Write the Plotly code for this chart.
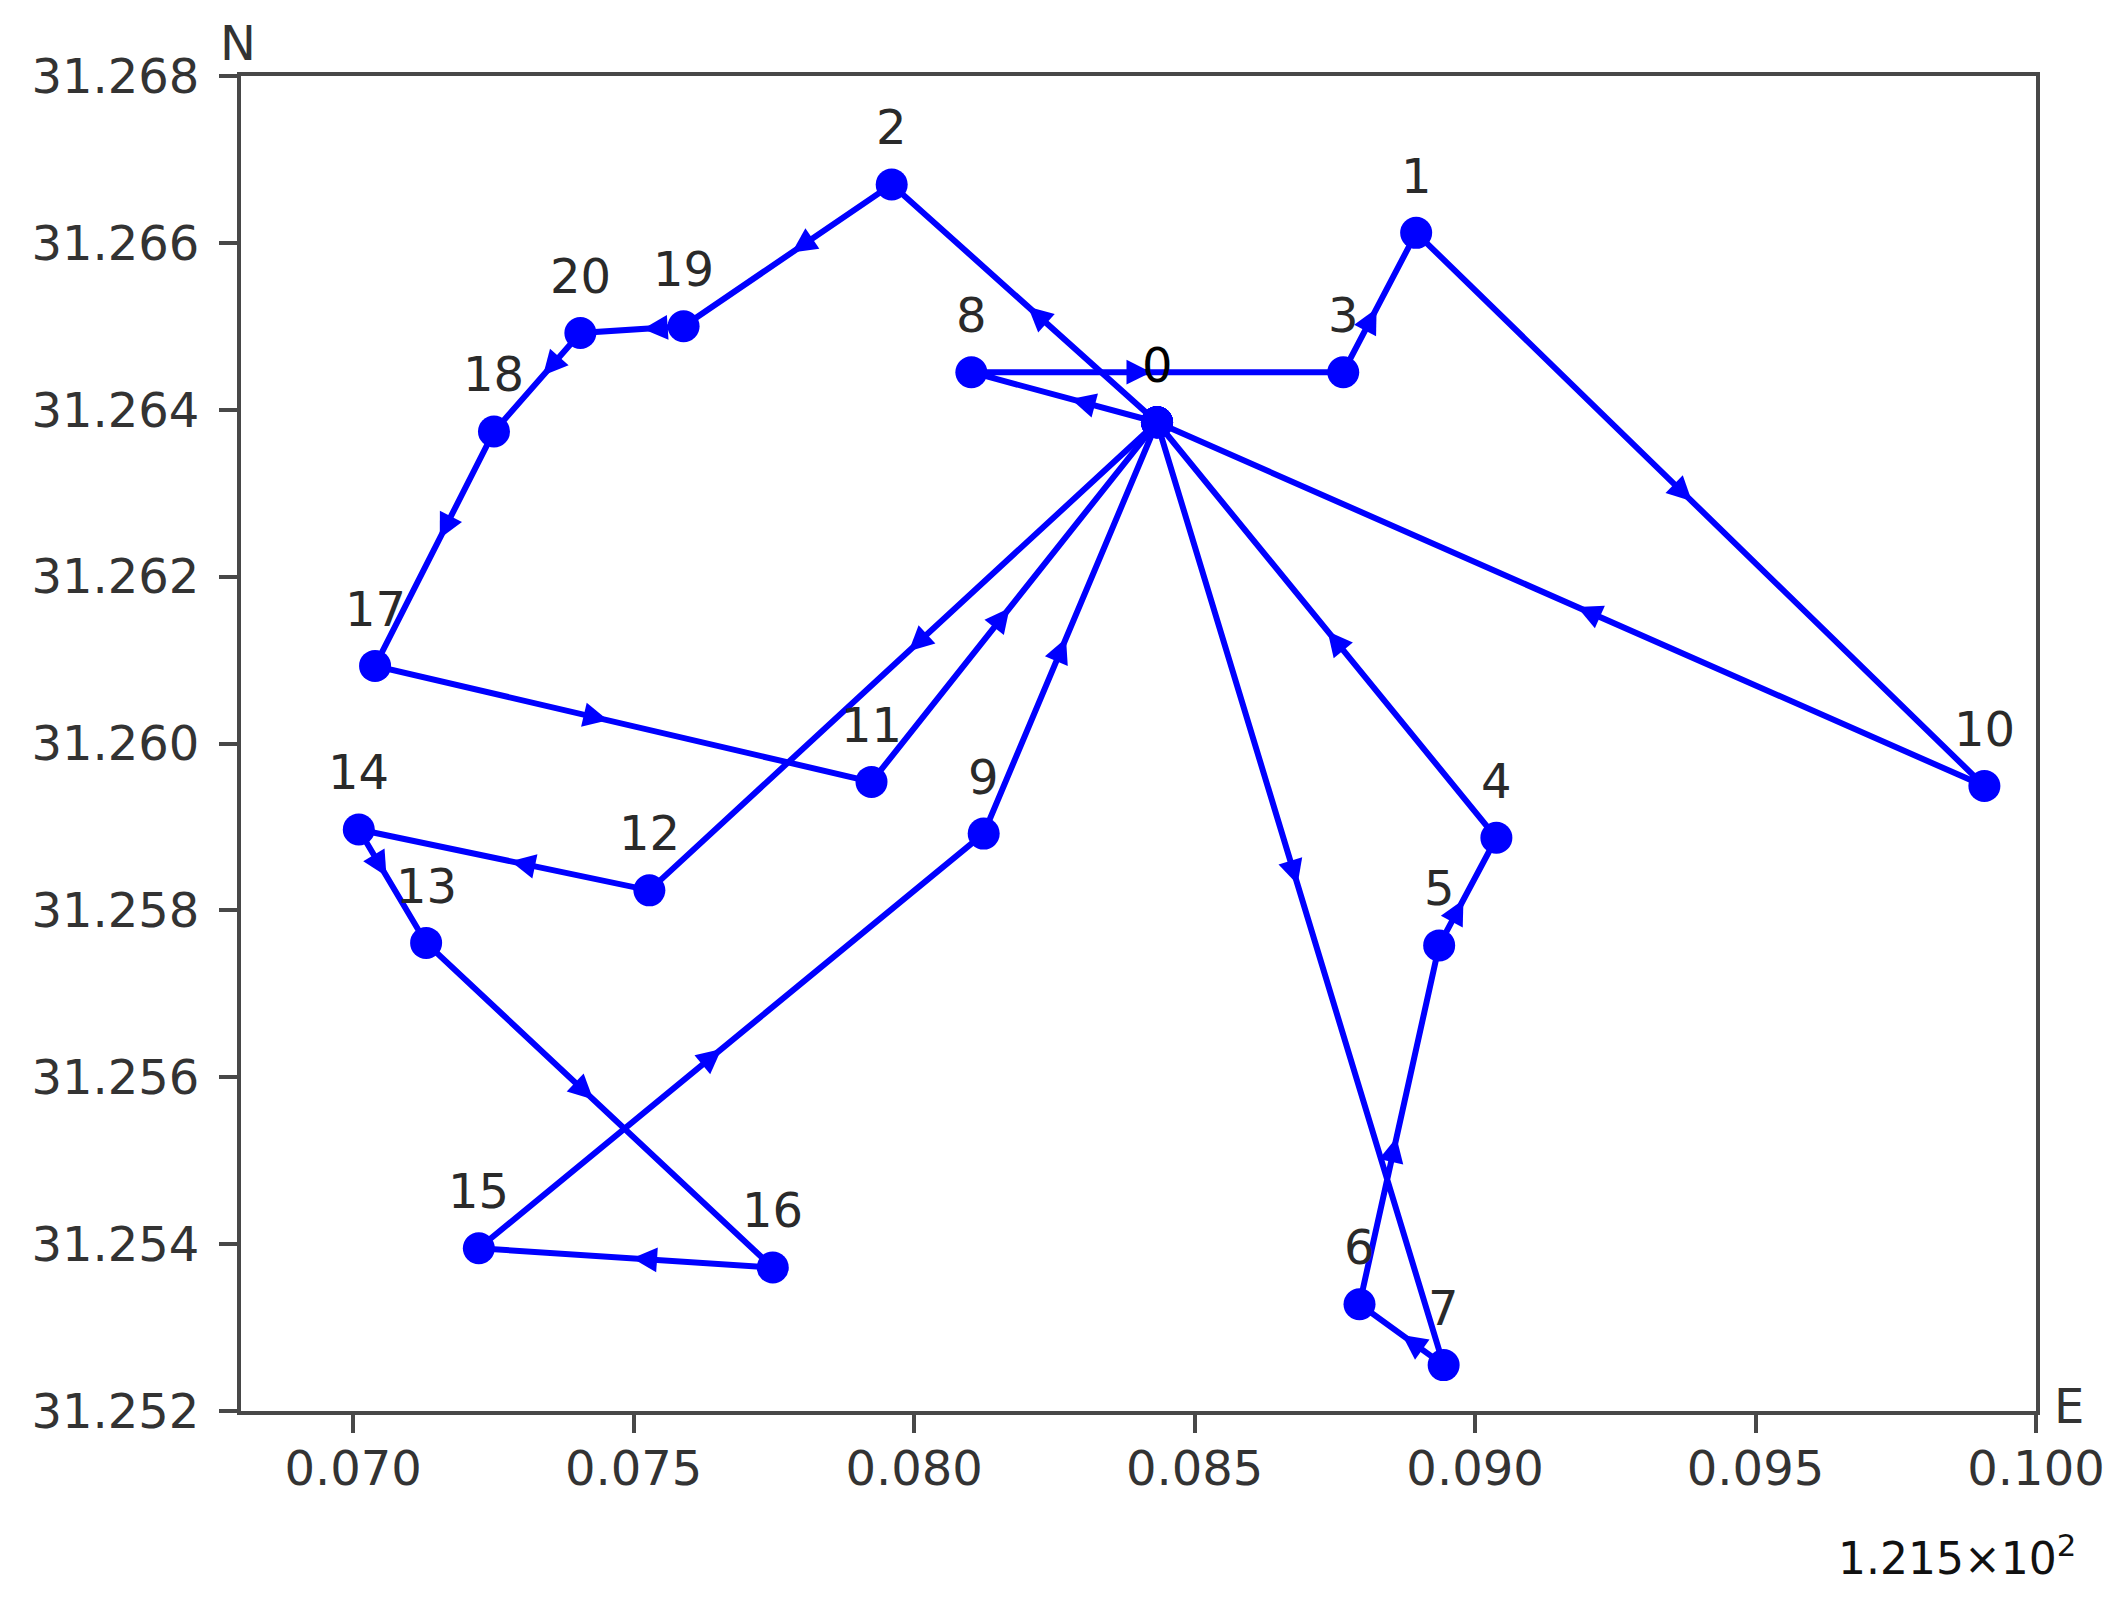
import plotly.graph_objects as go

# node coordinates (offset from 121.5 E, degrees N)
lon = [0.08433, 0.08895, 0.0796, 0.08765, 0.09038, 0.08936, 0.08794, 0.08944, 0.08102, 0.08124, 0.09908,
       0.07924, 0.07528, 0.0713, 0.0701, 0.07224, 0.07748, 0.07039, 0.07251, 0.07589, 0.07405]
lat = [31.26385, 31.26612, 31.2667, 31.26445, 31.25887, 31.25758, 31.25328, 31.25255, 31.26445, 31.25892, 31.25949,
       31.25954, 31.25824, 31.25761, 31.25897, 31.25395, 31.25372, 31.26093, 31.26374, 31.265, 31.26492]

# vehicle routes, all start and end at node 0
routes = [
    [0, 8, 3, 1, 10, 0],
    [0, 7, 6, 5, 4, 0],
    [0, 12, 14, 13, 16, 15, 9, 0],
    [0, 2, 19, 20, 18, 17, 11, 0],
]
# where the arrow sits on each leg
arrow_pos = [
    [0.36, 0.43, 0.33, 0.46, 0.47],
    [0.47, 0.30, 0.41, 0.26, 0.46],
    [0.46, 0.41, 0.26, 0.44, 0.41, 0.45, 0.43],
    [0.43, 0.40, 0.20, 0.28, 0.38, 0.43, 0.44],
]

x_ticks = [0.070, 0.075, 0.080, 0.085, 0.090, 0.095, 0.100]
y_ticks = [31.252, 31.254, 31.256, 31.258, 31.260, 31.262, 31.264, 31.266, 31.268]
x_range = [0.068, 0.100]
y_range = [31.252, 31.268]

BLUE = "#0000ff"
FONT = "DejaVu Sans"
PAGE_MARGIN = 8  # browser body margin round the plot div
LEFT, RIGHT, TOP, BOTTOM = 241, 2036, 76, 1411

# px per data unit, only used to keep arrow length the same on every leg
sx = (RIGHT - LEFT) / (x_range[1] - x_range[0])
sy = (BOTTOM - TOP) / (y_range[1] - y_range[0])

fig = go.Figure()
annots = []

for route, fracs in zip(routes, arrow_pos):
    fig.add_trace(go.Scatter(
        x=[lon[i] for i in route],
        y=[lat[i] for i in route],
        mode="lines+markers",
        line=dict(color=BLUE, width=6),
        marker=dict(color=BLUE, size=32),
        showlegend=False,
    ))
    for a, b, f in zip(route[:-1], route[1:], fracs):
        dx = lon[b] - lon[a]
        dy = lat[b] - lat[a]
        length = ((dx * sx) ** 2 + (dy * sy) ** 2) ** 0.5
        step = 20 / length
        annots.append(dict(
            x=lon[a] + dx * (f + step), y=lat[a] + dy * (f + step),
            ax=lon[a] + dx * f, ay=lat[a] + dy * f,
            xref="x", yref="y", axref="x", ayref="y",
            text="", showarrow=True, arrowhead=2, arrowsize=1.1,
            arrowwidth=4.5, arrowcolor=BLUE, standoff=0, startstandoff=0,
        ))

# node numbers
for i, (xv, yv) in enumerate(zip(lon, lat)):
    annots.append(dict(
        x=xv, y=yv, xref="x", yref="y", text=str(i), showarrow=False, yshift=57,
        font=dict(family=FONT, size=48, color="#000000" if i == 0 else "#2a2a2a"),
    ))

# axis letters and the offset text, placed in page pixels
corner_texts = [
    dict(x=238, y=43, text="N", font=dict(family=FONT, size=48, color="#333333")),
    dict(x=2069, y=1406, text="E", font=dict(family=FONT, size=48, color="#333333")),
    dict(x=1957, y=1555, text="1.215×10<sup>2</sup>", font=dict(family=FONT, size=44, color="#111111")),
]
for a in corner_texts:
    a.update(xref="paper", yref="paper", showarrow=False, xanchor="center", yanchor="middle")
    a["x"] = (a["x"] - LEFT) / (RIGHT - LEFT)
    a["y"] = (BOTTOM - a["y"]) / (BOTTOM - TOP)
annots += corner_texts

axis_style = dict(
    showline=True, mirror=True, linecolor="#484848", linewidth=4,
    ticks="outside", ticklen=18, tickwidth=4, tickcolor="#484848",
    showgrid=False, zeroline=False,
    tickfont=dict(family=FONT, size=48, color="#333333"),
)

fig.update_layout(
    width=2120 - PAGE_MARGIN, height=1605 - PAGE_MARGIN,
    margin=dict(l=LEFT - PAGE_MARGIN, r=2120 - RIGHT, t=TOP - PAGE_MARGIN, b=1605 - BOTTOM),
    paper_bgcolor="white", plot_bgcolor="white",
    annotations=annots,
    xaxis=dict(range=x_range, tickvals=x_ticks, ticktext=[f"{v:.3f}" for v in x_ticks],
               ticklabelstandoff=-6, **axis_style),
    yaxis=dict(range=y_range, tickvals=y_ticks, ticktext=[f"{v:.3f}" for v in y_ticks],
               ticklabelstandoff=10, **axis_style),
)

fig.write_html("out.html")
